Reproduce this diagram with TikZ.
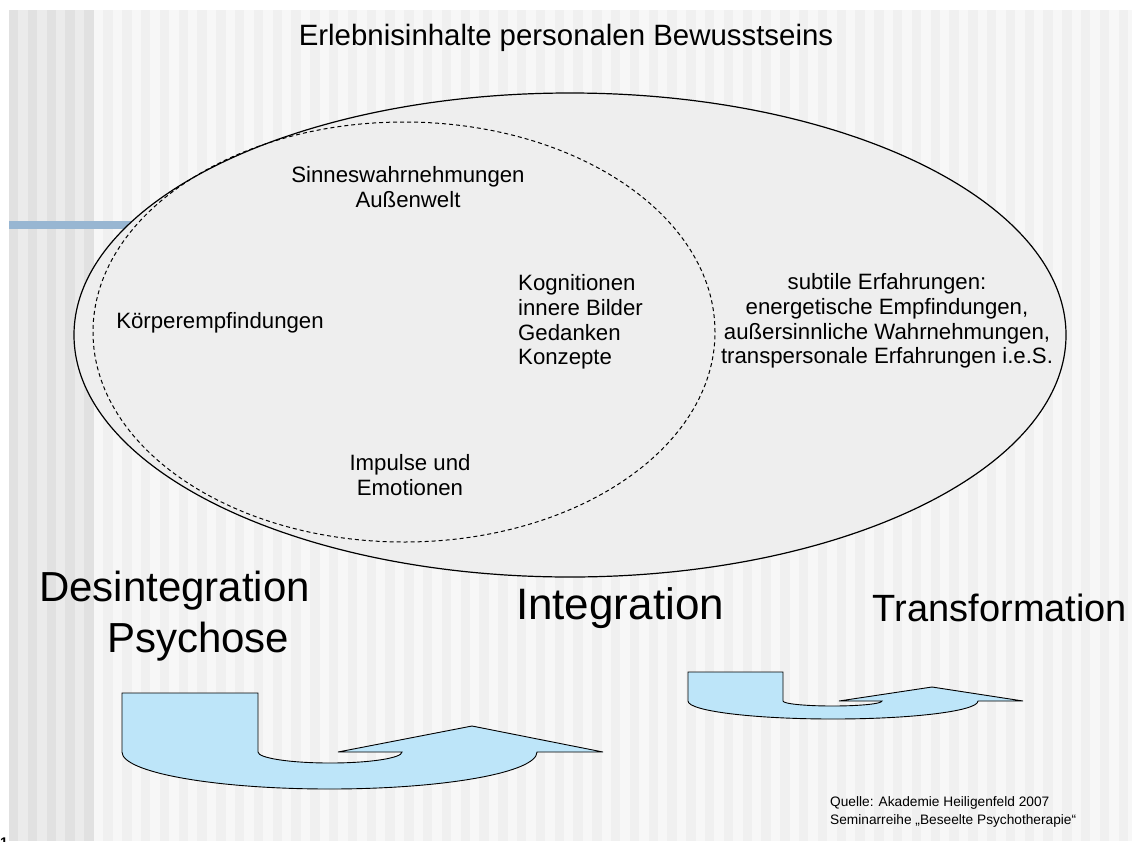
\documentclass[tikz,border=0pt]{standalone}
\usepackage{fontspec}
\setmainfont{Liberation Sans}
\usepackage{xcolor}

\definecolor{stripedark}{RGB}{225,225,225}
\definecolor{stripemid}{RGB}{235,235,235}
\definecolor{stripelight}{RGB}{247,247,247}
\definecolor{stripepale}{RGB}{240,240,240}
\definecolor{ellgray}{RGB}{238,238,238}
\definecolor{barblue}{RGB}{152,182,210}
\definecolor{arrowblue}{RGB}{189,229,249}

\tikzset{
  titletext/.style={font=\fontsize{29.4}{34}\selectfont, inner sep=0pt},
  bodytext/.style={font=\fontsize{22.2}{24.8}\selectfont, align=center, inner sep=0pt},
  bigtext/.style={font=\fontsize{42}{51}\selectfont, align=center, inner sep=0pt},
  smalltext/.style={font=\fontsize{13.7}{17.5}\selectfont, align=left, inner sep=0pt},
  arrowshape/.style={fill=arrowblue, draw=black, line width=0.9pt},
}

\begin{document}
\begin{tikzpicture}[x=1pt, y=-1pt]

    \useasboundingbox (0,0) rectangle (1132,841);
    \fill[white] (0,0) rectangle (1132,841);

    % Stripes in the background
    \fill[stripemid] (9,10) rectangle (94,841);
    \foreach \i in {0,2,...,8}
        \fill[stripedark] ({9+\i*9.4},10) rectangle ++(9.4,831);
    \fill[stripelight] (94,10) rectangle (1132,841);
    \foreach \i in {1,3,...,111}
        \fill[stripepale] ({94+\i*9.4},10) rectangle ++(9.4,831);

    % Blue bar on the left
    \fill[barblue] (9,221) rectangle (140,229);

    % Ellipses
    \draw[fill=ellgray, line width=1.2pt] (570,335) ellipse [x radius=496pt, y radius=242pt];
    \draw[dash pattern=on 4pt off 3pt, line width=1pt] (404,332) ellipse [x radius=311pt, y radius=210pt];

    \node[titletext] (title) at (566,38) {Erlebnisinhalte personalen Bewusstseins};

    \node[bodytext] (sinne) at (408,187) {Sinneswahrnehmungen\\Außenwelt};
    \node[bodytext] (koerper) at (220,323) {Körperempfindungen};
    \node[bodytext, align=left, anchor=west] (kogn) at (518,322) {Kognitionen\\innere Bilder\\Gedanken\\Konzepte};
    \node[bodytext] (subtil) at (887,321) {subtile Erfahrungen:\\energetische Empfindungen,\\außersinnliche Wahrnehmungen,\\transpersonale Erfahrungen i.e.S.};
    \node[bodytext] (impulse) at (410,475) {Impulse und\\Emotionen};

    \node[bigtext, align=left, anchor=west] (desint) at (39,616) {Desintegration\\\hspace*{68pt}Psychose};
    \node[bigtext, font=\fontsize{44}{51}\selectfont] (integ) at (620,608) {Integration};
    \node[bigtext, font=\fontsize{38}{51}\selectfont] (transf) at (1000,608) {Transformation};

    % Big arrow
    \draw[arrowshape] (122,693) -- (258,693) -- (258,752)
        arc[start angle=180, end angle=360, x radius=72pt, y radius=11pt]
        -- (338,752) -- (472,726) -- (603,752) -- (537,752)
        arc[start angle=0, end angle=-180, x radius=207.5pt, y radius=37pt]
        -- cycle;

    % Small arrow
    \draw[arrowshape] (688,672) -- (783,672) -- (783,701)
        arc[start angle=180, end angle=360, x radius=49.5pt, y radius=5pt]
        -- (839,701) -- (932,687) -- (1023,701) -- (978,701)
        arc[start angle=0, end angle=-180, x radius=145pt, y radius=18pt]
        -- cycle;

    \node[smalltext, anchor=west] (quelle) at (830,812) {Quelle: Akademie Heiligenfeld 2007\\Seminarreihe „Beseelte Psychotherapie“};

    \node[font=\fontsize{14}{16}\selectfont\bfseries, anchor=base west, inner sep=0pt] (pagenum) at (0,847) {1};

\end{tikzpicture}
\end{document}
